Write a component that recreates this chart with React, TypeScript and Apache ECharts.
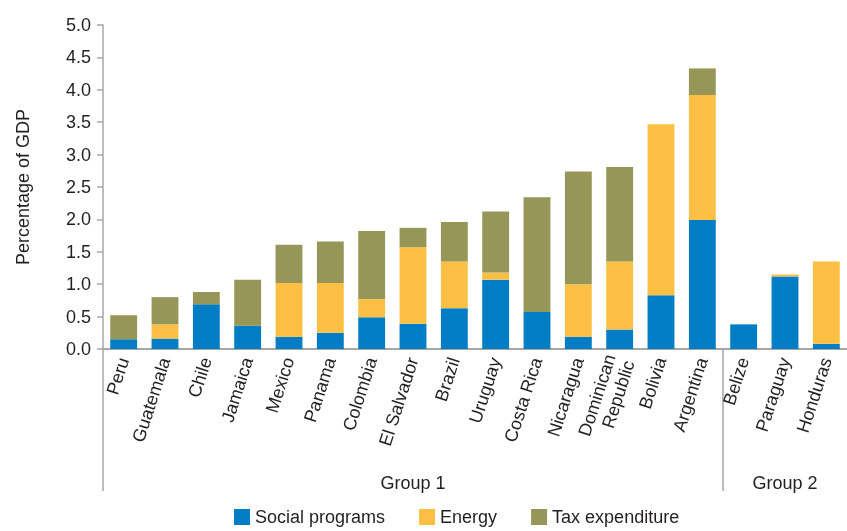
import React, { useEffect, useRef } from "react";
import * as echarts from "echarts";

const categories = [
  "Peru", "Guatemala", "Chile", "Jamaica", "Mexico", "Panama", "Colombia",
  "El Salvador", "Brazil", "Uruguay", "Costa Rica", "Nicaragua",
  "Dominican\nRepublic", "Bolivia", "Argentina", "Belize", "Paraguay", "Honduras",
];
const socialPrograms = [0.15, 0.16, 0.69, 0.36, 0.19, 0.25, 0.49, 0.39, 0.63, 1.07, 0.57, 0.19, 0.30, 0.83, 1.99, 0.38, 1.12, 0.08];
const energy = [0, 0.22, 0, 0, 0.83, 0.77, 0.28, 1.18, 0.72, 0.11, 0, 0.81, 1.05, 2.64, 1.93, 0, 0.03, 1.27];
const taxExpenditure = [0.37, 0.42, 0.19, 0.71, 0.59, 0.64, 1.05, 0.30, 0.61, 0.94, 1.77, 1.74, 1.46, 0, 0.41, 0, 0, 0];
const groups = [
  { name: "Group 1", first: 0, last: 14 },
  { name: "Group 2", first: 15, last: 17 },
];
const yTicks = { min: 0, max: 5, interval: 0.5 };

const FONT = "'Liberation Sans', Arial, sans-serif";
const FS = 18;
const TEXT = "#231f20";
const AXIS = "#a6a6a6";

export default function App() {
  const ref = useRef<HTMLDivElement>(null);
  useEffect(() => {
    if (!ref.current) return;
    const chart = echarts.init(ref.current, null, { renderer: "svg" });
    const gridTop = 25;
    const gridBottom = 182;
    const gridLeft = 103;
    chart.setOption({
      animation: false,
      textStyle: { fontFamily: FONT },
      grid: { left: gridLeft, right: -3, top: gridTop, bottom: gridBottom },
      legend: {
        left: 229,
        top: 503,
        itemWidth: 16,
        itemHeight: 16,
        itemGap: 34,
        icon: "rect",
        textStyle: { fontSize: FS, color: TEXT, fontFamily: FONT },
        data: ["Social programs", "Energy", "Tax expenditure"],
      },
      xAxis: {
        type: "category",
        data: categories,
        axisLine: { lineStyle: { color: AXIS, width: 2 } },
        axisTick: { show: false },
        axisLabel: {
          rotate: 72,
          interval: 0,
          fontSize: FS,
          color: TEXT,
          margin: 9,
          lineHeight: 20,
          fontFamily: FONT,
        },
      },
      yAxis: {
        type: "value",
        min: yTicks.min,
        max: yTicks.max,
        interval: yTicks.interval,
        name: "Percentage of GDP",
        nameLocation: "middle",
        nameGap: 71,
        nameTextStyle: { fontSize: FS, color: TEXT, fontFamily: FONT },
        axisLine: { show: true, lineStyle: { color: AXIS, width: 1.5 } },
        axisTick: { show: true, length: 6, lineStyle: { color: AXIS, width: 1.5 } },
        splitLine: { show: false },
        axisLabel: {
          fontSize: FS,
          color: TEXT,
          margin: 12,
          fontFamily: FONT,
          formatter: (v: number) => v.toFixed(1),
        },
      },
      series: [
        { name: "Social programs", type: "bar", stack: "a", data: socialPrograms, barCategoryGap: "35%", itemStyle: { color: "#007dc5" } },
        { name: "Energy", type: "bar", stack: "a", data: energy, itemStyle: { color: "#fbc043" } },
        { name: "Tax expenditure", type: "bar", stack: "a", data: taxExpenditure, itemStyle: { color: "#979659" } },
      ],
    });

    const axisY = chart.convertToPixel({ yAxisIndex: 0 }, 0) as number;
    const c0 = chart.convertToPixel({ xAxisIndex: 0 }, 0) as number;
    const c1 = chart.convertToPixel({ xAxisIndex: 0 }, 1) as number;
    const band = c1 - c0;
    const lineBottom = 491;
    const elements: any[] = [];
    groups.forEach((g, i) => {
      const xs = (chart.convertToPixel({ xAxisIndex: 0 }, g.first) as number) - band / 2;
      const xe = (chart.convertToPixel({ xAxisIndex: 0 }, g.last) as number) + band / 2;
      const x0 = i === 0 ? gridLeft : xs;
      if (i > 0) {
        elements.push({
          type: "line",
          shape: { x1: xs, y1: axisY, x2: xs, y2: lineBottom },
          style: { stroke: AXIS, lineWidth: 1.5 },
        });
      }
      elements.push({
        type: "text",
        x: (x0 + xe) / 2,
        y: 483,
        style: {
          text: g.name,
          fontSize: FS,
          fill: TEXT,
          fontFamily: FONT,
          align: "center",
          verticalAlign: "middle",
        },
      });
    });
    elements.push({
      type: "line",
      shape: { x1: gridLeft, y1: axisY, x2: gridLeft, y2: lineBottom },
      style: { stroke: AXIS, lineWidth: 1.5 },
    });
    chart.setOption({ graphic: { elements } });

    return () => chart.dispose();
  }, []);
  return (
    <div
      ref={ref}
      style={{ position: "fixed", left: 0, top: 0, width: 847, height: 531 }}
    />
  );
}
